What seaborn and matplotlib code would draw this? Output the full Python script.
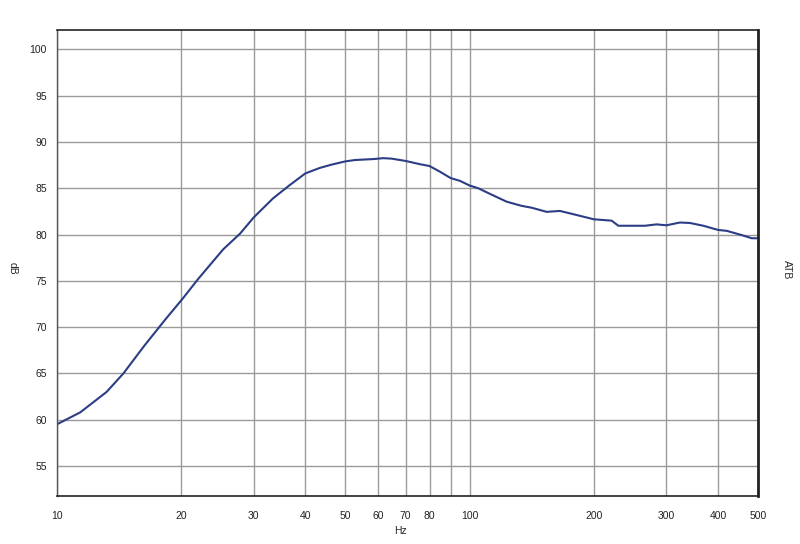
import numpy as np
import pandas as pd
import seaborn as sns
import matplotlib.pyplot as plt
from matplotlib.ticker import FixedLocator, FixedFormatter, NullLocator

# frequency response
freq = [10, 11.4, 13.2, 14.5, 16.3, 18.3, 20.2, 22.0, 25.3, 27.8, 30, 33.4, 36.7,
        40, 43.4, 46.3, 50, 52.8, 58.4, 61.8, 64.7, 70, 75.8, 80, 84.7, 90, 94.8,
        100, 105, 112, 123, 133.7, 141.4, 153.8, 165.6, 178.4, 200, 221, 229.4,
        266, 284, 300, 323.6, 342, 368.6, 400, 420, 452, 483, 500]
db = [59.5, 60.8, 63.0, 65.0, 68.0, 70.8, 73.1, 75.2, 78.4, 80.1, 81.85, 83.9, 85.35,
      86.6, 87.2, 87.55, 87.9, 88.05, 88.15, 88.25, 88.2, 87.95, 87.6, 87.4, 86.8, 86.1, 85.8,
      85.3, 85.0, 84.4, 83.55, 83.1, 82.9, 82.45, 82.55, 82.2, 81.65, 81.5, 80.95,
      80.95, 81.1, 81.0, 81.3, 81.25, 80.95, 80.5, 80.4, 80.0, 79.6, 79.6]

x_ticks = [10, 20, 30, 40, 50, 60, 70, 80, 90, 100, 200, 300, 400, 500]
x_labels = ['10', '20', '30', '40', '50', '60', '70', '80', '', '100', '200', '300', '400', '500']
y_ticks = [55, 60, 65, 70, 75, 80, 85, 90, 95, 100]

df = pd.DataFrame({'Hz': freq, 'dB': db})

sns.set_style('white')
plt.rcParams['font.family'] = ['Liberation Sans', 'DejaVu Sans']

fig = plt.figure(figsize=(8, 5.44), dpi=100)
ax = fig.add_axes([0.071, 0.088, 0.8765, 0.857])

ax.set_xscale('log')
sns.lineplot(data=df, x='Hz', y='dB', ax=ax, color='#2b3d85', linewidth=1.5)

ax.set_xlim(10, 500)
ax.set_ylim(51.75, 102.1)
ax.xaxis.set_major_locator(FixedLocator(x_ticks))
ax.xaxis.set_major_formatter(FixedFormatter(x_labels))
ax.xaxis.set_minor_locator(NullLocator())
ax.set_yticks(y_ticks)

ax.grid(True, color='#9a9a9a', linewidth=1.0)
ax.tick_params(axis='both', labelsize=7.5, colors='#222222', length=2, width=0.8)
ax.tick_params(axis='x', pad=9, color='#9a9a9a')
ax.tick_params(axis='y', pad=5, color='#9a9a9a')

for side in ['top', 'bottom']:
    ax.spines[side].set_color('#222222')
    ax.spines[side].set_linewidth(1.2)
ax.spines['left'].set_color('#555555')
ax.spines['left'].set_linewidth(1.0)
ax.spines['right'].set_color('#222222')
ax.spines['right'].set_linewidth(2.0)

ax.set_xlabel('')
ax.set_ylabel('')
fig.text(400 / 800, 1 - 531 / 544, 'Hz', ha='center', va='center', fontsize=7.5)
fig.text(13 / 800, 1 - 268 / 544, 'dB', ha='center', va='center', fontsize=7.5, rotation=-90)
fig.text(787 / 800, 1 - 270 / 544, 'ATB', ha='center', va='center', fontsize=7.5, rotation=-90)

fig.savefig('out.png', dpi=100)
